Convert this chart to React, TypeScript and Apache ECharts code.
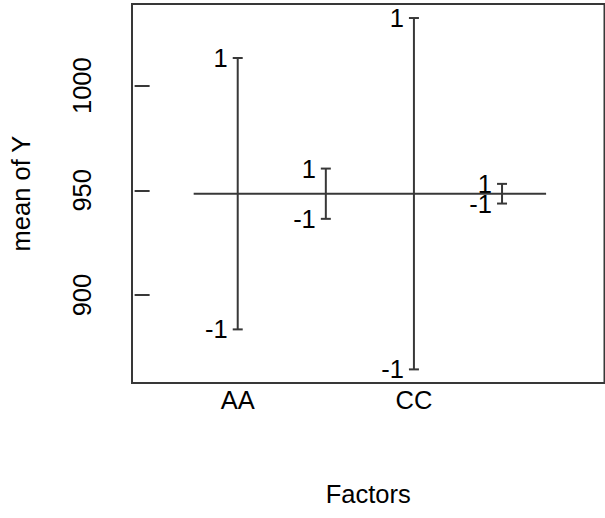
import React, { useEffect, useRef } from "react";
import * as echarts from "echarts";

// Design plot: level means of each factor around the grand mean
const factorNames = ["AA", "BB", "CC", "DD"];
const factorPositions = [1, 2, 3, 4];
const levelNames = ["1", "-1"];
const levelOneMeans = [1013.2, 960.4, 1032.3, 953.1];
const levelMinusOneMeans = [883.6, 936.4, 864.5, 943.7];
const grandMean = 948.4;
const yTickValues = [900, 950, 1000];
const xLabelledPositions = [1, 3];

const FONT = '"Liberation Sans", Arial, Helvetica, sans-serif';
const INK = "#383838";
const FONT_SIZE = 25.5;

export default function App() {
  const ref = useRef<HTMLDivElement>(null);

  useEffect(() => {
    if (!ref.current) return;
    const chart = echarts.init(ref.current, undefined, { renderer: "svg" });

    const barData = factorPositions.map((x, i) => [x, levelOneMeans[i], levelMinusOneMeans[i]]);

    chart.setOption({
      animation: false,
      backgroundColor: "#ffffff",
      grid: {
        left: 131.5,
        top: 4,
        width: 473,
        height: 379,
        show: true,
        borderColor: INK,
        borderWidth: 2,
        backgroundColor: "transparent",
      },
      xAxis: {
        type: "value",
        min: -0.2,
        max: 5.163,
        name: "Factors",
        nameLocation: "middle",
        nameGap: 98,
        nameTextStyle: { fontFamily: FONT, fontSize: FONT_SIZE, color: "#000" },
        axisLine: { show: false },
        axisTick: { show: false },
        splitLine: { show: false },
        axisLabel: {
          customValues: xLabelledPositions,
          formatter: (v: number) => factorNames[factorPositions.indexOf(v)] ?? "",
          fontFamily: FONT,
          fontSize: FONT_SIZE,
          color: "#000",
          margin: 4,
        },
      },
      yAxis: {
        type: "value",
        min: 858,
        max: 1039,
        name: "mean of Y",
        nameLocation: "middle",
        nameRotate: 90,
        nameGap: 98,
        nameTextStyle: { fontFamily: FONT, fontSize: FONT_SIZE, color: "#000" },
        axisLine: { show: false },
        splitLine: { show: false },
        axisTick: {
          show: true,
          customValues: yTickValues,
          length: 15,
          lineStyle: { color: INK, width: 2 },
        },
        axisLabel: {
          customValues: yTickValues,
          formatter: (v: number) => String(v),
          rotate: 90,
          fontFamily: FONT,
          fontSize: FONT_SIZE,
          color: "#000",
          margin: 37,
        },
      },
      series: [
        {
          type: "line",
          data: [
            [0.5, grandMean],
            [4.5, grandMean],
          ],
          symbol: "none",
          lineStyle: { color: INK, width: 2 },
          silent: true,
        },
        {
          type: "custom",
          data: barData,
          silent: true,
          renderItem: (params: any, api: any) => {
            const x = api.value(0);
            const hi = api.coord([x, api.value(1)]);
            const lo = api.coord([x, api.value(2)]);
            const cap = 5;
            const lineStyle = { stroke: INK, lineWidth: 2 };
            const label = (text: string, p: number[]) => ({
              type: "text",
              style: {
                text,
                x: p[0] - 10,
                y: p[1],
                align: "right",
                verticalAlign: "middle",
                fontSize: FONT_SIZE,
                fontFamily: FONT,
                fill: "#000",
              },
            });
            return {
              type: "group",
              children: [
                { type: "line", shape: { x1: hi[0], y1: hi[1], x2: lo[0], y2: lo[1] }, style: lineStyle },
                { type: "line", shape: { x1: hi[0] - cap, y1: hi[1], x2: hi[0] + cap, y2: hi[1] }, style: lineStyle },
                { type: "line", shape: { x1: lo[0] - cap, y1: lo[1], x2: lo[0] + cap, y2: lo[1] }, style: lineStyle },
                label(levelNames[0], hi),
                label(levelNames[1], lo),
              ],
            };
          },
        },
      ],
    });

    return () => chart.dispose();
  }, []);

  return (
    <div
      ref={ref}
      style={{ position: "fixed", left: 0, top: 0, width: 605, height: 518, background: "#fff" }}
    />
  );
}
